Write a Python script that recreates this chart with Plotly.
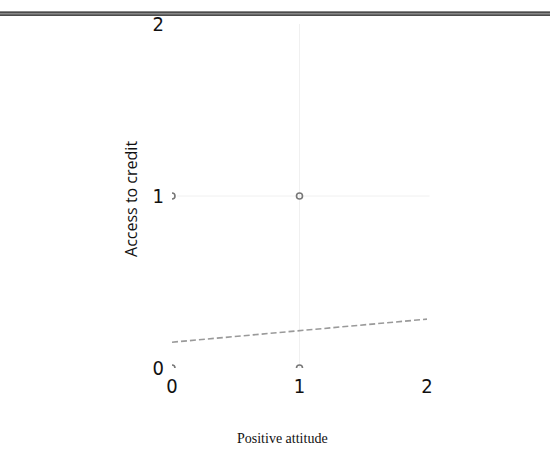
import plotly.graph_objects as go

# Observed responses (positive attitude vs. access to credit)
attitude = [0, 1, 0, 1]
credit = [1, 1, 0, 0]

# Fitted linear trend
trend_x = [0, 2]
trend_y = [0.15, 0.284]

tick_vals = [0, 1, 2]
tick_text = ["0", "1", "2"]

W, H = 550, 456
L, R, T, B = 172, 123, 18, 88
PW, PH = W - L - R, H - T - B


def px_x(p):
    return (p - L) / PW


def px_y(p):
    return (H - B - p) / PH


fig = go.Figure()

fig.add_trace(go.Scatter(
    x=attitude, y=credit, mode="markers",
    marker=dict(symbol="circle-open", size=6, color="#777777", line=dict(width=1.6)),
    cliponaxis=True, showlegend=False, hoverinfo="skip",
))

fig.add_trace(go.Scatter(
    x=trend_x, y=trend_y, mode="lines",
    line=dict(color="#9a9a9a", width=1.6, dash="6px,3px"),
    showlegend=False, hoverinfo="skip",
))

tick_font = dict(family="Liberation Sans Narrow, DejaVu Sans Condensed, sans-serif", size=20, color="#111111")

fig.update_xaxes(
    range=[0, 2], tickvals=tick_vals, ticktext=tick_text,
    showgrid=False, zeroline=False, showline=False, ticks="",
    tickfont=tick_font, ticklabelstandoff=4,
)
fig.update_yaxes(
    range=[0, 2], tickvals=tick_vals, ticktext=tick_text,
    showgrid=False, zeroline=False, showline=False, ticks="",
    tickfont=tick_font, ticklabelstandoff=7,
)

# Light reference lines at the middle categories
fig.add_shape(type="line", xref="x", yref="paper", x0=1, x1=1, y0=0.0, y1=1.0,
              line=dict(color="#f0f0f0", width=1), layer="below")
fig.add_shape(type="line", xref="paper", yref="y", x0=0.02, x1=1.01, y0=1, y1=1,
              line=dict(color="#f0f0f0", width=1), layer="below")

# Double rule across the top of the page
fig.add_shape(type="line", xref="paper", yref="paper",
              x0=px_x(0), x1=px_x(W), y0=px_y(6), y1=px_y(6),
              line=dict(color="#111111", width=1.2))
fig.add_shape(type="line", xref="paper", yref="paper",
              x0=px_x(0), x1=px_x(W), y0=px_y(7.5), y1=px_y(7.5),
              line=dict(color="#888888", width=1.5))
fig.add_shape(type="line", xref="paper", yref="paper",
              x0=px_x(0), x1=px_x(W), y0=px_y(9), y1=px_y(9),
              line=dict(color="#111111", width=1.2))

fig.add_annotation(
    text="Positive attitude", xref="paper", yref="paper",
    x=px_x(282), y=px_y(440), xanchor="center", yanchor="middle",
    showarrow=False,
    font=dict(family="Liberation Serif, Times New Roman, serif", size=14, color="#111111"),
)
fig.add_annotation(
    text="Access to credit", xref="paper", yref="paper",
    x=px_x(131), y=px_y(196), xanchor="center", yanchor="middle",
    textangle=-90, showarrow=False,
    font=dict(family="Open Sans, sans-serif", size=16, color="#111111"),
)

fig.update_layout(
    width=W, height=H,
    margin=dict(l=L, r=R, t=T, b=B),
    paper_bgcolor="white", plot_bgcolor="white",
)

fig.write_html("out.html")
